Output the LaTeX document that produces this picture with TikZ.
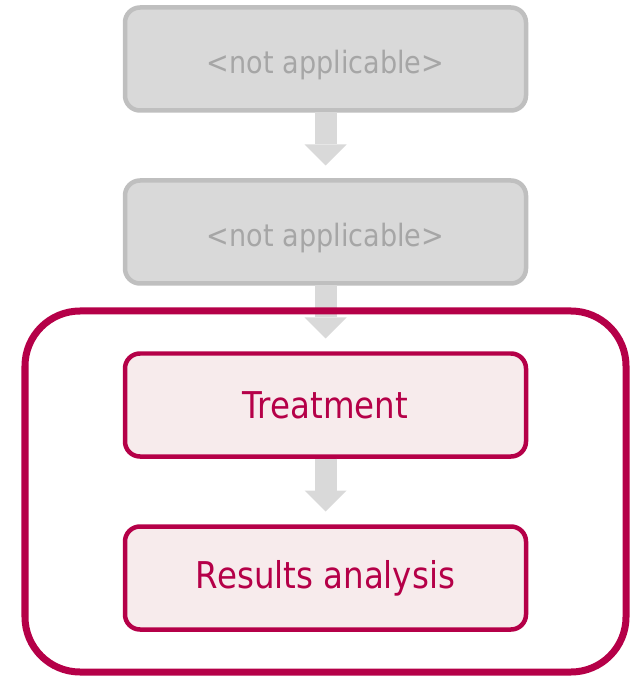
\documentclass[tikz,border=0pt]{standalone}
\usepackage{fontspec}
\setmainfont{DejaVu Sans}[FakeStretch=0.88]
\usepackage{xcolor}
\usepackage{tikz}
\usetikzlibrary{arrows.meta, positioning, fit}
\definecolor{boxgray}{RGB}{191,191,191}
\definecolor{fillgray}{RGB}{217,217,217}
\definecolor{textgray}{RGB}{166,166,166}
\definecolor{boxcrimson}{RGB}{181,0,72}
\definecolor{fillcrimson}{RGB}{247,235,236}
\tikzset{
  stageoff/.style={rectangle, minimum width=8.02cm, minimum height=2.06cm, align=center, draw=boxgray, fill=fillgray, text=textgray, font=\fontsize{17.5}{21}\selectfont, text height=0.58cm, text depth=0pt, rounded corners=0.3cm, line width=0.09cm, inner sep=0pt, outer sep=0pt},
  stageon/.style={rectangle, minimum width=8.02cm, minimum height=2.06cm, align=center, draw=boxcrimson, fill=fillcrimson, text=boxcrimson, font=\fontsize{21}{25}\selectfont, rounded corners=0.3cm, line width=0.09cm, inner sep=0pt, outer sep=0pt},
  groupbox/.style={rectangle, draw=boxcrimson, line width=0.14cm, rounded corners=1.1cm, inner xsep=2.0cm, inner ysep=0.85cm, outer sep=0pt},
  flow/.style={draw=fillgray, line width=0.44cm, -{Triangle[width=0.84cm, length=0.42cm, line width=0pt]}, shorten <=0.04cm, shorten >=0.3cm},
}
\begin{document}
\begin{tikzpicture}[node distance=1.4cm]
\useasboundingbox (0,0) rectangle (12.58,-13.52);
\node (b1) [stageoff] at (6.51,-1.18) {<not applicable>};
\node (b2) [stageoff, below=of b1] {<not applicable>};
\node (b3) [stageon, below=of b2] {Treatment};
\node (b4) [stageon, below=of b3] {Results analysis};
\draw[flow] (b1) -- (b2);
\draw[flow] (b2) -- (b3);
\draw[flow] (b3) -- (b4);
\node (grp) [groupbox, fit=(b3)(b4)] {};
\end{tikzpicture}
\end{document}
